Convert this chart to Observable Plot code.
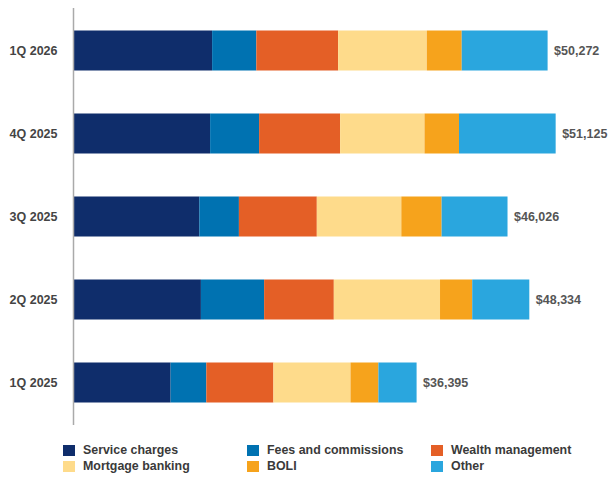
<!DOCTYPE html>
<html>
<head>
<meta charset="utf-8">
<script src="https://cdn.jsdelivr.net/npm/d3@7"></script>
<script src="https://cdn.jsdelivr.net/npm/@observablehq/plot@0.6"></script>
<style>
  html, body { margin: 0; padding: 0; background: #fff; }
  body { width: 608px; height: 477px; position: relative; overflow: hidden; font-family: "Liberation Sans", Arial, sans-serif; }
  #chart svg { display: block; }
  #legend { position: absolute; left: 0; top: 442px; width: 608px; }
  .item { position: absolute; display: flex; align-items: center; font-size: 12.4px; font-weight: bold; color: #3a3a3a; height: 16px; white-space: nowrap; }
  .sw { width: 12px; height: 11px; margin-right: 8px; flex: none; }
</style>
</head>
<body>
<div id="chart"></div>
<div id="legend"></div>
<script>
const quarters = ["1Q 2026", "4Q 2025", "3Q 2025", "2Q 2025", "1Q 2025"];
const totals = [50272, 51125, 46026, 48334, 36395];
const seriesNames = ["Service charges", "Fees and commissions", "Wealth management", "Mortgage banking", "BOLI", "Other"];
const seriesColors = ["#0f2d6b", "#0072b1", "#e45f26", "#fedb8b", "#f6a31c", "#2aa6de"];
const serviceCharges = [14735, 14523, 13379, 13549, 10339];
const feesCommissions = [4682, 5190, 4195, 6695, 3782];
const wealthManagement = [8665, 8580, 8252, 7383, 7108];
const mortgageBanking = [9396, 8940, 8951, 11250, 8167];
const boli = [3697, 3655, 4269, 3411, 2955];
const other = [9097, 10237, 6980, 6046, 4044];

const seriesValues = [serviceCharges, feesCommissions, wealthManagement, mortgageBanking, boli, other];
const rows = [];
seriesNames.forEach((s, i) => {
  quarters.forEach((q, j) => rows.push({quarter: q, series: s, value: seriesValues[i][j]}));
});
const totalRows = quarters.map((q, j) => ({quarter: q, total: totals[j]}));

const chart = Plot.plot({
  width: 608,
  height: 432,
  marginLeft: 73,
  marginRight: 0,
  marginTop: 8,
  marginBottom: 7,
  style: {fontFamily: "'Liberation Sans', Arial, sans-serif", background: "#fff"},
  x: {domain: [0, 56670], axis: null},
  y: {domain: quarters, padding: 0, label: null},
  color: {domain: seriesNames, range: seriesColors},
  marks: [
    Plot.barX(rows, Plot.stackX({x: "value", y: "quarter", fill: "series", insetTop: 21.5, insetBottom: 21.5})),
    Plot.ruleX([0], {stroke: "#aaa", strokeWidth: 1.5}),
    Plot.axisY({tickSize: 0, tickPadding: 16, fontSize: 12.5, fontWeight: "bold", fill: "#444", label: null}),
    Plot.text(totalRows, {x: "total", y: "quarter", text: d => "$" + d3.format(",")(d.total), dx: 6, textAnchor: "start", fontSize: 12.5, fontWeight: "bold", fill: "#555"})
  ]
});
document.getElementById("chart").appendChild(chart);

const legend = document.getElementById("legend");
const colX = [63, 247, 431];
seriesNames.forEach((s, i) => {
  const col = i % 3, row = Math.floor(i / 3);
  const el = document.createElement("div");
  el.className = "item";
  el.style.left = colX[col] + "px";
  el.style.top = (row * 16) + "px";
  el.innerHTML = `<span class="sw" style="background:${seriesColors[i]}"></span><span>${s}</span>`;
  legend.appendChild(el);
});
</script>
</body>
</html>
